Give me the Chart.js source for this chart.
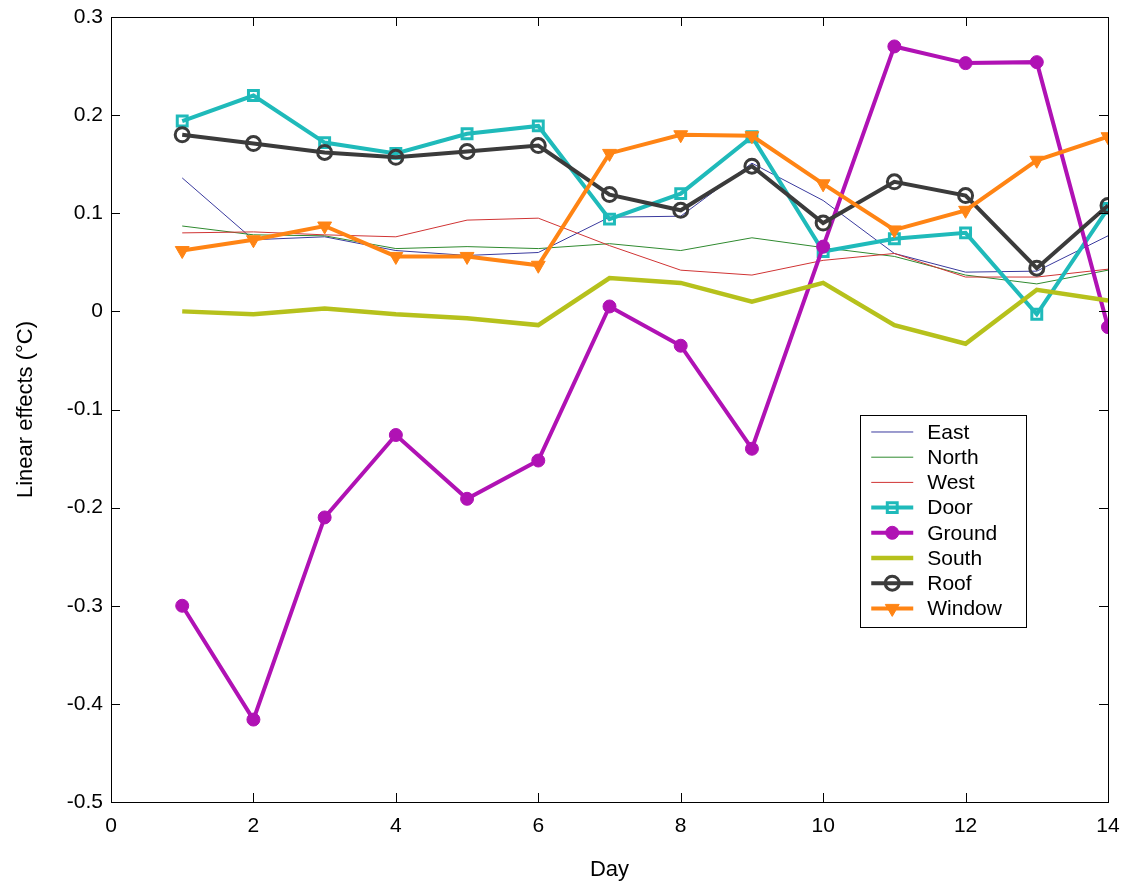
<!DOCTYPE html>
<html>
<head>
<meta charset="utf-8">
<title>Linear effects by day</title>
<script src="https://cdn.jsdelivr.net/npm/chart.js@4/dist/chart.umd.min.js"></script>
<style>
  html, body { margin: 0; padding: 0; background: #ffffff; }
  canvas { display: block; }
</style>
</head>
<body>
<canvas id="chart" width="1126" height="886"></canvas>
<script>
// Days of the experiment
const days = [1, 2, 3, 4, 5, 6, 7, 8, 9, 10, 11, 12, 13, 14];

// Linear effect of each surface (°C) per day
const east   = [0.136, 0.073, 0.076, 0.062, 0.057, 0.060, 0.096, 0.097, 0.151, 0.113, 0.059, 0.040, 0.041, 0.077];
const north  = [0.087, 0.078, 0.077, 0.064, 0.066, 0.064, 0.069, 0.062, 0.075, 0.065, 0.056, 0.037, 0.028, 0.042];
const west   = [0.080, 0.081, 0.078, 0.076, 0.093, 0.095, 0.067, 0.042, 0.037, 0.052, 0.059, 0.035, 0.035, 0.043];
const door   = [0.194, 0.220, 0.172, 0.161, 0.181, 0.189, 0.094, 0.120, 0.178, 0.061, 0.074, 0.080, -0.003, 0.105];
const ground = [-0.300, -0.416, -0.210, -0.126, -0.191, -0.152, 0.005, -0.035, -0.140, 0.066, 0.270, 0.253, 0.254, -0.016];
const south  = [0.000, -0.003, 0.003, -0.003, -0.007, -0.014, 0.034, 0.029, 0.010, 0.029, -0.014, -0.033, 0.022, 0.011];
const roof   = [0.180, 0.171, 0.162, 0.157, 0.163, 0.169, 0.119, 0.103, 0.148, 0.090, 0.132, 0.118, 0.044, 0.108];
const windowEff = [0.062, 0.073, 0.087, 0.056, 0.056, 0.047, 0.161, 0.180, 0.179, 0.130, 0.083, 0.103, 0.154, 0.178];

// Axis tick labels
const xTickLabels = ['0', '2', '4', '6', '8', '10', '12', '14'];
const yTickLabels = ['-0.5', '-0.4', '-0.3', '-0.2', '-0.1', '0', '0.1', '0.2', '0.3'];

const FONT = '"Liberation Sans", Arial, sans-serif';

function series(label, values, color, width, style) {
  return Object.assign({
    label: label,
    data: days.map((d, i) => ({ x: d, y: values[i] })),
    borderColor: color,
    backgroundColor: color,
    borderWidth: width,
    pointRadius: 0,
    pointHoverRadius: 0,
    tension: 0,
    fill: false
  }, style || {});
}

const datasets = [
  series('East',   east,   '#3a3a9e', 1),
  series('North',  north,  '#2f8a2f', 1),
  series('West',   west,   '#d03434', 1),
  series('Door',   door,   '#1fbaba', 4, {
    pointStyle: 'rect', pointRadius: 7, pointBorderWidth: 3,
    pointBackgroundColor: 'rgba(255,255,255,0)', pointBorderColor: '#1fbaba'
  }),
  series('Ground', ground, '#b012b4', 4, {
    pointStyle: 'circle', pointRadius: 6.5, pointBorderWidth: 1,
    pointBackgroundColor: '#b012b4', pointBorderColor: '#b012b4'
  }),
  series('South',  south,  '#b6c11c', 4.5),
  series('Roof',   roof,   '#3b3b3b', 4, {
    pointStyle: 'circle', pointRadius: 7, pointBorderWidth: 3,
    pointBackgroundColor: 'rgba(255,255,255,0)', pointBorderColor: '#3b3b3b'
  }),
  series('Window', windowEff, '#ff8414', 4, {
    pointStyle: 'triangle', pointRotation: 180, pointRadius: 8, pointBorderWidth: 1,
    pointBackgroundColor: '#ff8414', pointBorderColor: '#ff8414'
  })
];
// later series are painted over earlier ones
datasets.forEach((ds, i) => { ds.order = datasets.length - i; });

// Box around the plot with inward tick marks on all four sides
const frame = {
  id: 'frame',
  afterDatasetsDraw(chart) {
    const { ctx, chartArea: a, scales: { x, y } } = chart;
    const len = 9;
    ctx.save();
    ctx.strokeStyle = '#000';
    ctx.lineWidth = 1;
    ctx.beginPath();
    xTickLabels.forEach(t => {
      const px = Math.round(x.getPixelForValue(Number(t))) + 0.5;
      ctx.moveTo(px, a.bottom); ctx.lineTo(px, a.bottom - len);
      ctx.moveTo(px, a.top); ctx.lineTo(px, a.top + len);
    });
    yTickLabels.forEach(t => {
      const py = Math.round(y.getPixelForValue(Number(t))) + 0.5;
      ctx.moveTo(a.left, py); ctx.lineTo(a.left + len, py);
      ctx.moveTo(a.right, py); ctx.lineTo(a.right - len, py);
    });
    ctx.stroke();
    ctx.strokeRect(Math.round(a.left) + 0.5, Math.round(a.top) + 0.5,
                   Math.round(a.right - a.left), Math.round(a.bottom - a.top));
    ctx.restore();
  }
};

// Boxed legend inside the lower right part of the plot
const boxLegend = {
  id: 'boxLegend',
  afterDraw(chart) {
    const { ctx, chartArea: a } = chart;
    const left = a.left + (a.right - a.left) * 0.7515;
    const top = a.top + (a.bottom - a.top) * 0.507;
    const w = 166, rowH = 25.2, h = 212;
    ctx.save();
    ctx.fillStyle = '#fff';
    ctx.fillRect(left, top, w, h);
    ctx.strokeStyle = '#000';
    ctx.lineWidth = 1;
    ctx.strokeRect(Math.round(left) + 0.5, Math.round(top) + 0.5, w, h);
    chart.data.datasets.forEach((ds, i) => {
      const cy = top + 17 + i * rowH;
      const x0 = left + 11, x1 = left + 53;
      ctx.strokeStyle = ds.borderColor;
      ctx.lineWidth = ds.borderWidth;
      ctx.beginPath();
      ctx.moveTo(x0, cy); ctx.lineTo(x1, cy);
      ctx.stroke();
      if (ds.pointRadius) {
        ctx.fillStyle = ds.pointBackgroundColor;
        ctx.strokeStyle = ds.pointBorderColor;
        ctx.lineWidth = ds.pointBorderWidth;
        Chart.helpers.drawPoint(ctx, {
          pointStyle: ds.pointStyle,
          radius: ds.pointRadius,
          rotation: ds.pointRotation || 0,
          borderWidth: ds.pointBorderWidth
        }, (x0 + x1) / 2, cy);
      }
      ctx.fillStyle = '#000';
      ctx.font = '21px ' + FONT;
      ctx.textAlign = 'left';
      ctx.textBaseline = 'middle';
      ctx.fillText(ds.label, left + 67, cy + 1);
    });
    ctx.restore();
  }
};

// the plot box is fixed by the layout padding alone
function clearScalePadding(s) {
  s.paddingTop = 0; s.paddingBottom = 0; s.paddingLeft = 0; s.paddingRight = 0;
}

new Chart(document.getElementById('chart'), {
  type: 'line',
  data: { datasets: datasets },
  options: {
    responsive: false,
    animation: false,
    devicePixelRatio: 1,
    layout: { padding: { top: 17, right: 18, left: 0, bottom: 0 } },
    plugins: {
      legend: { display: false },
      tooltip: { enabled: false }
    },
    scales: {
      x: {
        type: 'linear',
        min: 0, max: 14,
        afterBuildTicks(s) { s.ticks = xTickLabels.map(v => ({ value: Number(v) })); },
        afterFit(s) { s.height = 84; clearScalePadding(s); },
        ticks: {
          padding: 12,
          color: '#000',
          font: { family: FONT, size: 21 },
          maxRotation: 0,
          callback: (v) => xTickLabels.find(t => Number(t) === v)
        },
        grid: { display: false, drawTicks: false },
        border: { display: false },
        title: {
          display: true, text: 'Day', color: '#000',
          font: { family: FONT, size: 22 },
          padding: { top: 0, bottom: 3 }
        }
      },
      y: {
        type: 'linear',
        min: -0.5, max: 0.3,
        afterBuildTicks(s) { s.ticks = yTickLabels.map(v => ({ value: Number(v) })); },
        afterFit(s) { s.width = 111; clearScalePadding(s); },
        ticks: {
          padding: 8,
          color: '#000',
          font: { family: FONT, size: 21 },
          callback: (v) => yTickLabels.find(t => Math.abs(Number(t) - v) < 1e-9)
        },
        grid: { display: false, drawTicks: false },
        border: { display: false },
        title: {
          display: true, text: 'Linear effects (°C)', color: '#000',
          font: { family: FONT, size: 22 },
          padding: { top: 13, bottom: 0 }
        }
      }
    }
  },
  plugins: [frame, boxLegend]
});
</script>
</body>
</html>
